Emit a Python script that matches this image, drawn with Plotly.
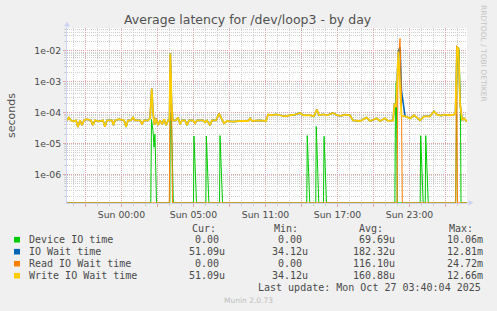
import plotly.graph_objects as go

# ------------------------------------------------------------------ data
# time axis: hours relative to the "Sun 00:00" tick position
t_main = [-4.54, -4.38, -4.21, -3.96, -3.79, -3.63, -3.46, -3.29, -3.13, -2.88,
          -2.54, -2.38, -2.21, -1.88, -1.54, -1.38, -1.21, -0.79, -0.67, -0.54,
          -0.21, 0.21, 0.38, 0.54, 0.79, 0.96, 1.13, 1.54, 1.71, 1.88,
          2.21, 2.38, 2.52, 2.63, 2.75, 2.88, 3.04, 3.21, 3.38, 3.54,
          3.71, 3.88, 4.00, 4.07, 4.17, 4.27, 4.54, 4.71, 4.88, 5.04,
          5.29, 5.46, 5.63, 5.96, 6.13, 6.29, 6.79, 6.96, 7.13, 7.38,
          7.54, 7.88, 8.13, 8.29, 8.54, 8.79, 9.29, 9.88, 10.54, 10.71,
          10.88, 11.46, 12.04, 12.21, 12.54, 12.88, 13.21, 13.63, 14.04, 14.46,
          14.88, 15.13, 15.71, 16.04, 16.27, 16.46, 16.79, 17.13, 17.63, 17.96,
          18.29, 18.63, 19.04, 19.29, 19.88, 20.43, 20.71, 21.27, 21.54, 21.96,
          22.21, 22.63, 22.75, 22.88, 23.07, 23.21, 23.33, 23.63, 24.04, 24.38,
          24.88, 25.21, 25.71, 26.04, 26.29, 26.63, 26.96, 27.38, 27.71, 27.83,
          27.96, 28.08, 28.21, 28.38, 28.54, 28.79]

write_wait = [5.6e-5, 6.9e-5, 5.6e-5, 5.2e-5, 5.6e-5, 3.4e-5, 5.6e-5, 3.9e-5, 5.6e-5, 6.1e-5,
              5.6e-5, 3.9e-5, 5.6e-5, 5.2e-5, 5.6e-5, 3.5e-5, 5.6e-5, 5.6e-5, 3.9e-5, 5.6e-5,
              6.1e-5, 5.6e-5, 3.4e-5, 5.6e-5, 5.6e-5, 6.9e-5, 5.6e-5, 5.6e-5, 4.2e-5, 5.6e-5,
              5.6e-5, 6.5e-5, 6.0e-4, 1.0e-4, 4.0e-5, 6.5e-5, 3.9e-5, 5.6e-5, 4.2e-5, 6.1e-5,
              3.9e-5, 5.6e-5, 5.6e-5, 8.3e-3, 2.0e-4, 5.6e-5, 5.6e-5, 6.9e-5, 4.2e-5, 5.6e-5,
              5.6e-5, 3.9e-5, 5.6e-5, 5.6e-5, 4.5e-5, 5.6e-5, 5.6e-5, 4.8e-5, 5.6e-5, 3.9e-5,
              5.6e-5, 5.6e-5, 9.3e-5, 7.0e-5, 4.5e-5, 5.35e-5, 5.1e-5, 5.35e-5, 5.35e-5, 6.5e-5,
              5.35e-5, 5.6e-5, 5.35e-5, 8.6e-5, 8.2e-5, 8.8e-5, 8.2e-5, 7.6e-5, 8.2e-5, 8.6e-5,
              9.7e-5, 8.2e-5, 8.2e-5, 7.6e-5, 1.25e-4, 8.2e-5, 8.8e-5, 8.2e-5, 9.7e-5, 8.2e-5,
              7.8e-5, 8.6e-5, 8.2e-5, 5.6e-5, 5.35e-5, 6.9e-5, 5.35e-5, 6.5e-5, 5.35e-5, 6.5e-5,
              5.35e-5, 5.6e-5, 2.0e-4, 1.5e-4, 9.3e-3, 4.0e-4, 8.0e-5, 7.6e-5, 6.5e-5, 8.2e-5,
              5.6e-5, 7.6e-5, 7.6e-5, 1.1e-4, 8.6e-5, 8.0e-5, 8.6e-5, 8.2e-5, 8.6e-5, 1.0e-4,
              1.25e-2, 1.2e-2, 2.0e-4, 5.6e-5, 6.5e-5, 5.109e-5]

io_wait = [5.6e-5, 6.9e-5, 5.6e-5, 5.2e-5, 5.6e-5, 3.4e-5, 5.6e-5, 3.9e-5, 5.6e-5, 6.1e-5,
           5.6e-5, 3.9e-5, 5.6e-5, 5.2e-5, 5.6e-5, 3.5e-5, 5.6e-5, 5.6e-5, 3.9e-5, 5.6e-5,
           6.1e-5, 5.6e-5, 3.4e-5, 5.6e-5, 5.6e-5, 6.9e-5, 5.6e-5, 5.6e-5, 4.2e-5, 5.6e-5,
           5.6e-5, 6.5e-5, 6.0e-4, 1.0e-4, 4.0e-5, 6.5e-5, 3.9e-5, 5.6e-5, 4.2e-5, 6.1e-5,
           3.9e-5, 5.6e-5, 5.6e-5, 8.3e-3, 2.0e-4, 5.6e-5, 5.6e-5, 6.9e-5, 4.2e-5, 5.6e-5,
           5.6e-5, 3.9e-5, 5.6e-5, 5.6e-5, 4.5e-5, 5.6e-5, 5.6e-5, 4.8e-5, 5.6e-5, 3.9e-5,
           5.6e-5, 5.6e-5, 9.3e-5, 7.0e-5, 4.5e-5, 5.35e-5, 5.1e-5, 5.35e-5, 5.35e-5, 6.5e-5,
           5.35e-5, 5.6e-5, 5.35e-5, 8.6e-5, 8.2e-5, 8.8e-5, 8.2e-5, 7.6e-5, 8.2e-5, 8.6e-5,
           9.7e-5, 8.2e-5, 8.2e-5, 7.6e-5, 1.25e-4, 8.2e-5, 8.8e-5, 8.2e-5, 9.7e-5, 8.2e-5,
           7.8e-5, 8.6e-5, 8.2e-5, 5.6e-5, 5.35e-5, 6.9e-5, 5.35e-5, 6.5e-5, 5.35e-5, 6.5e-5,
           5.35e-5, 5.6e-5, 2.0e-4, 1.5e-4, 9.3e-3, 1.281e-2, 5.0e-4, 7.6e-5, 6.5e-5, 8.2e-5,
           5.6e-5, 7.6e-5, 7.6e-5, 1.1e-4, 8.6e-5, 8.0e-5, 8.6e-5, 8.2e-5, 8.6e-5, 1.0e-4,
           1.25e-2, 1.2e-2, 2.0e-4, 5.6e-5, 6.5e-5, 5.109e-5]

read_t = [-4.54, 3.98, 4.07, 4.17, 4.25, 22.96, 23.04, 23.21, 23.33, 23.40,
          27.85, 27.92, 28.00, 28.79]
read_wait = [0.0, 0.0, 7.0e-3, 3.0e-4, 0.0, 0.0, 4.0e-3, 2.472e-2, 3.0e-4, 0.0,
             0.0, 1.45e-2, 0.0, 0.0]

dev_t = [-4.54,
         2.44, 2.50, 2.63, 2.71, 2.79, 2.92,
         4.03, 4.07, 4.17, 4.32,
         6.00, 6.04, 6.25,
         7.03, 7.07, 7.28,
         8.17, 8.21, 8.42,
         15.44, 15.48, 15.69,
         16.19, 16.23, 16.44,
         16.83, 16.88, 17.08,
         22.78, 22.83, 22.90, 22.98,
         24.89, 24.93, 25.14,
         25.31, 25.35, 25.56,
         27.85, 27.96, 28.13, 28.24, 28.29,
         28.79]
dev_time = [0.0,
            0.0, 6.0e-5, 2.5e-5, 7.6e-6, 2.0e-5, 0.0,
            0.0, 1.0e-4, 5.0e-5, 0.0,
            0.0, 1.75e-5, 0.0,
            0.0, 1.75e-5, 0.0,
            0.0, 1.8e-5, 0.0,
            0.0, 1.8e-5, 0.0,
            0.0, 3.6e-5, 0.0,
            0.0, 1.7e-5, 0.0,
            0.0, 2.0e-4, 1.0e-3, 0.0,
            0.0, 1.8e-5, 0.0,
            0.0, 1.8e-5, 0.0,
            0.0, 5.0e-3, 1.006e-2, 2.0e-4, 0.0,
            0.0]

x_tick_hours = [-3, 0, 3, 6, 9, 12, 15, 18, 21, 24, 27]
x_tick_labels = ["", "Sun 00:00", "", "Sun 05:00", "", "Sun 11:00", "",
                 "Sun 17:00", "", "Sun 23:00", ""]
y_tick_vals = [1e-6, 1e-5, 1e-4, 1e-3, 1e-2]
y_tick_labels = ["1e-06", "1e-05", "1e-04", "1e-03", "1e-02"]

legend_names = ["Device IO time", "IO Wait time", "Read IO Wait time", "Write IO Wait time"]
series_colors = ["#00CC00", "#0066B3", "#FF8000", "#FFCC00"]
cur_txt = ["0.00", "51.09u", "0.00", "51.09u"]
min_txt = ["0.00", "34.12u", "0.00", "34.12u"]
avg_txt = ["69.69u", "182.32u", "116.10u", "160.88u"]
max_txt = ["10.06m", "12.81m", "24.72m", "12.66m"]

# ------------------------------------------------------------------ layout constants
W, H = 497, 311
L, R, T, B = 67, 30, 28, 108
PW, PH = W - L - R, H - T - B
x_lo, x_hi = -4.54, 28.79
y_lo, y_hi = -6.921, -1.267
floor = 10 ** (y_lo + 0.004)

MGRID = "#e2a4a4"
GRID = "#cfcfcf"
AXIS = "#cdd3f5"
TXT = "#4a4a4a"
MONO = "DejaVu Sans Mono"
SANS = "DejaVu Sans"


def px(x):
    return (x - L) / PW


def py(y):
    return (H - B - y) / PH


def clip(vals):
    return [v if v > floor else floor for v in vals]


fig = go.Figure()
fig.add_trace(go.Scatter(x=dev_t, y=clip(dev_time), mode="lines",
                         line=dict(color=series_colors[0], width=1), name=legend_names[0]))
fig.add_trace(go.Scatter(x=t_main, y=clip(io_wait), mode="lines",
                         line=dict(color=series_colors[1], width=1.6), name=legend_names[1]))
fig.add_trace(go.Scatter(x=read_t, y=clip(read_wait), mode="lines",
                         line=dict(color=series_colors[2], width=1), name=legend_names[2]))
fig.add_trace(go.Scatter(x=t_main, y=clip(write_wait), mode="lines",
                         line=dict(color=series_colors[3], width=1.8), name=legend_names[3]))

minor_y = [k * 10.0 ** e for e in range(-7, -1) for k in range(2, 10)]

fig.update_layout(
    width=W, height=H,
    margin=dict(l=L, r=R, t=T, b=B, pad=0),
    paper_bgcolor="#F0F0F0", plot_bgcolor="#FFFFFF",
    showlegend=False,
    font=dict(family=SANS, size=9.3, color=TXT),
    xaxis=dict(range=[x_lo, x_hi], tickmode="array", tickvals=x_tick_hours,
               ticktext=x_tick_labels, showgrid=True, gridcolor=MGRID,
               griddash="1px,1px", gridwidth=1, ticks="outside", ticklen=3,
               tickcolor=MGRID, showline=True, linecolor=AXIS, layer="below traces",
               zeroline=False, fixedrange=True,
               tickfont=dict(family=SANS, size=9.3, color=TXT),
               minor=dict(tickmode="linear", tick0=0, dtick=1, showgrid=True,
                          gridcolor=GRID, griddash="1px,1px", ticks="outside",
                          ticklen=2, tickcolor=GRID)),
    yaxis=dict(type="log", range=[y_lo, y_hi], tickmode="array", tickvals=y_tick_vals,
               ticktext=y_tick_labels, showgrid=True, gridcolor=MGRID,
               griddash="1px,1px", gridwidth=1, ticks="outside", ticklen=3,
               tickcolor=MGRID, showline=True, linecolor=AXIS, zeroline=False,
               fixedrange=True, tickfont=dict(family=SANS, size=9.3, color=TXT),
               minor=dict(tickmode="array", tickvals=minor_y, showgrid=True,
                          gridcolor=GRID, griddash="1px,1px", ticks="outside",
                          ticklen=2, tickcolor=GRID)),
)

ann = []


def text(x, y, s, size, color=TXT, family=SANS, xanchor="left", angle=0):
    ann.append(dict(x=px(x), y=py(y), xref="paper", yref="paper", text=s,
                    showarrow=False, xanchor=xanchor, yanchor="middle",
                    textangle=angle, font=dict(family=family, size=size, color=color)))


text(248, 19.5, "Average latency for /dev/loop3 - by day", 12.5, color="#505050", xanchor="center")
text(11, 115, "seconds", 11, color="#505050", xanchor="center", angle=-90)
text(484, 53, "RRDTOOL / TOBI OETIKER", 7.5, color="#c4c4c4", xanchor="center", angle=90)

CW = 6.02
rows_y = [239.7, 251.7, 263.7, 275.7]
hdr_y = 228.3
for hx, lab in zip([190, 271.7, 356.7, 446.7], ["Cur:", "Min:", "Avg:", "Max:"]):
    text(hx, hdr_y, lab, 10, family=MONO)

shapes = []
col_right = [226.7, 310.0, 396.7, 485.0]
for i, ry in enumerate(rows_y):
    shapes.append(dict(type="rect", xref="paper", yref="paper",
                       x0=px(14), x1=px(20), y0=py(ry + 2.8), y1=py(ry - 2.8),
                       fillcolor=series_colors[i], line=dict(width=0)))
    text(26.7, ry, legend_names[i], 10, family=MONO)
    for cr, col in zip(col_right, [cur_txt, min_txt, avg_txt, max_txt]):
        s = col[i]
        xr = cr if s[-1].isalpha() else cr - CW
        text(xr, ry, s, 10, family=MONO, xanchor="right")

text(482.5, 287.5, "Last update: Mon Oct 27 03:40:04 2025", 10, family=MONO, xanchor="right")
text(248, 300.3, "Munin 2.0.73", 7.5, color="#bdbdbd", xanchor="center")

# axis arrows
shapes.append(dict(type="path", xref="paper", yref="paper",
                   path=f"M {px(64.3)},{py(26.5)} L {px(69.7)},{py(26.5)} L {px(67)},{py(21.3)} Z",
                   fillcolor=AXIS, line=dict(width=0)))
shapes.append(dict(type="line", xref="paper", yref="paper",
                   x0=px(67), x1=px(67), y0=py(28), y1=py(26.5),
                   line=dict(color=AXIS, width=1)))
shapes.append(dict(type="path", xref="paper", yref="paper",
                   path=f"M {px(468.3)},{py(200.0)} L {px(468.3)},{py(205.4)} L {px(473.5)},{py(202.7)} Z",
                   fillcolor=AXIS, line=dict(width=0)))
shapes.append(dict(type="line", xref="paper", yref="paper",
                   x0=px(467), x1=px(468.3), y0=py(202.7), y1=py(202.7),
                   line=dict(color=AXIS, width=1)))

fig.update_layout(annotations=ann, shapes=shapes)
fig.write_html("out.html")
